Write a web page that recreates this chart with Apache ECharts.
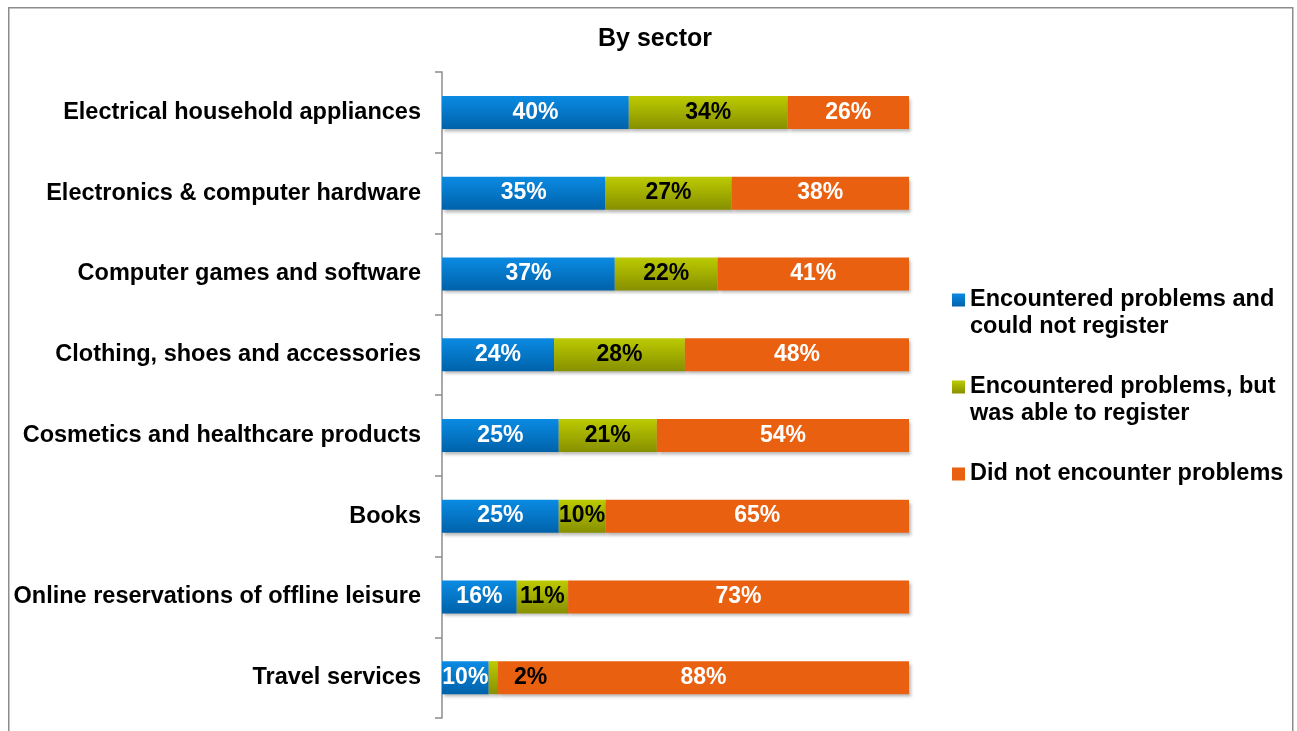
<!DOCTYPE html>
<html>
<head>
<meta charset="utf-8">
<script src="https://cdn.jsdelivr.net/npm/echarts@6/dist/echarts.min.js"></script>
<style>
html,body{margin:0;padding:0;background:#fff;}
#chart{width:1297px;height:731px;}
</style>
</head>
<body>
<div id="chart"></div>
<script>
const categories = [
  "Electrical household appliances",
  "Electronics & computer hardware",
  "Computer games and software",
  "Clothing, shoes and accessories",
  "Cosmetics and healthcare products",
  "Books",
  "Online reservations of offline leisure",
  "Travel services"
];
const couldNotRegister = [40, 35, 37, 24, 25, 25, 16, 10];
const ableToRegister = [34, 27, 22, 28, 21, 10, 11, 2];
const noProblems = [26, 38, 41, 48, 54, 65, 73, 88];
const seriesNames = [
  "Encountered problems and\ncould not register",
  "Encountered problems, but\nwas able to register",
  "Did not encounter problems"
];
const titleText = "By sector";

const FONT = '"Liberation Sans", Arial, sans-serif';
const chart = echarts.init(document.getElementById('chart'));

function grad(top, bottom) {
  return new echarts.graphic.LinearGradient(0, 0, 0, 1, [
    {offset: 0, color: top}, {offset: 1, color: bottom}
  ]);
}
const shadow = {shadowColor: 'rgba(0,0,0,0.28)', shadowBlur: 3, shadowOffsetX: 2, shadowOffsetY: 3};
const labelBase = {show: true, position: 'inside', fontFamily: FONT, fontWeight: 'bold', fontSize: 23, formatter: '{c}%'};

const greenData = ableToRegister.map((v) => {
  if (v < 5) {
    return {value: v, label: {position: 'right', distance: 16, color: '#000'}};
  }
  return v;
});

chart.setOption({
  animation: false,
  textStyle: {fontFamily: FONT},
  graphic: [{
    type: 'rect', left: 8, top: 7, z: -1,
    shape: {width: 1284, height: 740},
    style: {fill: '#fff', stroke: '#8c8c8c', lineWidth: 1.5}
  }],
  title: {
    text: titleText, left: 650, textAlign: 'center', top: 22,
    textStyle: {fontFamily: FONT, fontWeight: 'bold', fontSize: 25, color: '#000'}
  },
  legend: {
    orient: 'vertical', left: 947, top: 254.5,
    itemWidth: 13, itemHeight: 13, itemGap: 6,
    selectedMode: false,
    icon: 'rect',
    // pad each entry to three lines so the marker sits on the first text line
    formatter: (name) => name.indexOf('\n') >= 0 ? '\n' + name : '\n' + name + '\n',
    textStyle: {fontFamily: FONT, fontWeight: 'bold', fontSize: 23.5, color: '#000', lineHeight: 27},
    data: seriesNames
  },
  grid: {left: 442, right: 388, top: 72, bottom: 13, containLabel: false},
  xAxis: {type: 'value', min: 0, max: 100, show: false},
  yAxis: {
    type: 'category', data: categories, inverse: true,
    axisLine: {show: true, lineStyle: {color: '#8c8c8c', width: 1.5}},
    axisTick: {show: true, length: 7, lineStyle: {color: '#8c8c8c', width: 1.5}},
    axisLabel: {margin: 21, fontFamily: FONT, fontWeight: 'bold', fontSize: 23.5, color: '#000'},
    splitLine: {show: false}
  },
  series: [
    {
      name: seriesNames[0], type: 'bar', stack: 'total', barWidth: 33,
      data: couldNotRegister,
      itemStyle: Object.assign({color: grad('#0a8be3', '#0062aa')}, shadow),
      label: Object.assign({color: '#fff'}, labelBase)
    },
    {
      name: seriesNames[1], type: 'bar', stack: 'total', barWidth: 33,
      data: greenData,
      itemStyle: Object.assign({color: grad('#bccb00', '#879000')}, shadow),
      label: Object.assign({color: '#000'}, labelBase)
    },
    {
      name: seriesNames[2], type: 'bar', stack: 'total', barWidth: 33,
      data: noProblems,
      itemStyle: Object.assign({color: '#e96011'}, shadow),
      label: Object.assign({color: '#fff'}, labelBase)
    }
  ]
});
</script>
</body>
</html>
